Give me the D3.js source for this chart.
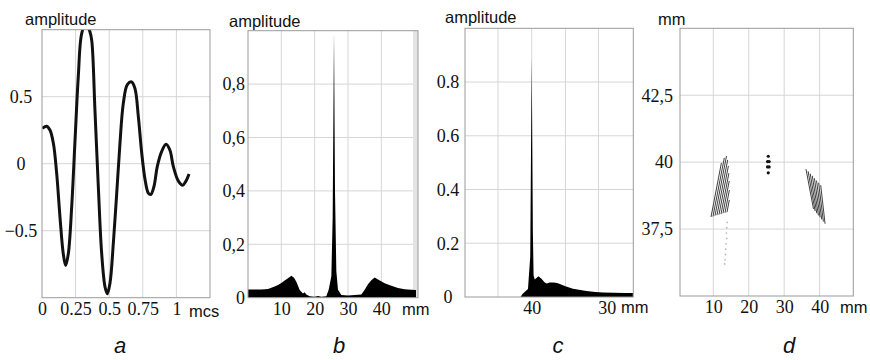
<!DOCTYPE html>
<html>
<head>
<meta charset="utf-8">
<script src="https://cdn.jsdelivr.net/npm/d3@7"></script>
<style>
  body { margin: 0; background: #fff; }
  svg { display: block; }
</style>
</head>
<body>
<svg id="chart" width="870" height="360"></svg>
<script>
// --- panel a: probing pulse (time in mcs, amplitude)
const pulseTime = [0.002, 0.035, 0.06, 0.085, 0.109, 0.134, 0.158, 0.176, 0.196, 0.221, 0.246, 0.27, 0.295, 0.327, 0.355,
  0.37, 0.394, 0.419, 0.444, 0.469, 0.486, 0.506, 0.531, 0.556, 0.58, 0.605, 0.635, 0.667, 0.692, 0.717, 0.742,
  0.767, 0.791, 0.809, 0.833, 0.858, 0.89, 0.923, 0.952, 0.977, 1.015, 1.047, 1.071, 1.094];
const pulseAmp = [0.264, 0.28, 0.25, 0.15, -0.07, -0.40, -0.67, -0.76, -0.67, -0.32, 0.18, 0.65, 0.97, 1.05, 0.99,
  0.92, 0.40, -0.17, -0.67, -0.92, -0.97, -0.89, -0.59, -0.22, 0.15, 0.45, 0.59, 0.61, 0.56, 0.35, 0.08,
  -0.12, -0.22, -0.23, -0.17, -0.02, 0.09, 0.145, 0.10, -0.02, -0.13, -0.16, -0.13, -0.077];
const aTimeTicks = [0, 0.25, 0.5, 0.75, 1];
const aAmpTicks = [0.5, 0, -0.5];

// --- panel b: lateral profile (mm, amplitude)
const profileBX = [0, 2, 4, 6, 8, 9, 10, 11, 12, 13, 13.8, 14.5, 15, 15.5, 16.5, 17, 17.5, 18.5, 20, 21, 22, 23.5,
  24.2, 25.0, 25.4, 25.8, 26.1, 26.5, 27, 28, 30, 32, 34, 35, 36, 37, 38, 39, 41, 43, 45, 47, 49, 50.4];
const profileBY = [0.031, 0.031, 0.031, 0.033, 0.042, 0.048, 0.055, 0.064, 0.073, 0.082, 0.075, 0.06, 0.045, 0.029,
  0.016, 0.02, 0.012, 0.005, 0.004, 0.006, 0.004, 0.005, 0.03, 0.08, 0.3, 1.0, 0.4, 0.1, 0.03, 0.01, 0.008, 0.01,
  0.012, 0.03, 0.05, 0.065, 0.076, 0.068, 0.054, 0.045, 0.036, 0.032, 0.03, 0.029];
const bXTicks = [10, 20, 30, 40];
const bYTicks = [0, 0.2, 0.4, 0.6, 0.8];

// --- panel c: depth profile (mm, reversed axis)
const profileCX = [41.5, 41.2, 40.8, 40.5, 40.2, 40.0, 39.85, 39.75, 39.6, 39.1, 38.7, 38.3, 38, 37.6, 37.1, 36.6,
  36, 35.5, 34.5, 33.5, 32.7, 31.5, 30.5, 29, 27.5, 26.5];
const profileCY = [0, 0.012, 0.022, 0.03, 0.15, 0.89, 0.25, 0.08, 0.065, 0.077, 0.068, 0.055, 0.05, 0.054, 0.054,
  0.052, 0.046, 0.04, 0.031, 0.026, 0.022, 0.019, 0.017, 0.016, 0.015, 0.015];
const cXTicks = [40, 30];
const cXGrid = [44.5, 40, 35.5, 31.1];
const cYTicks = [0, 0.2, 0.4, 0.6, 0.8];

// --- panel d: image (x mm, depth mm), stripes are [x1, y1, x2, y2]
const leftStripes = [
  [9.35, 37.95, 12.28, 39.97], [9.91, 37.97, 13.10, 40.16], [10.48, 38.00, 13.72, 40.23],
  [11.04, 38.02, 14.05, 40.08], [11.60, 38.04, 14.26, 39.86], [12.17, 38.06, 14.40, 39.59],
  [12.73, 38.09, 14.50, 39.30], [13.30, 38.11, 14.54, 38.96], [13.86, 38.13, 14.52, 38.59]
];
const rightStripes = [
  [36.15, 39.74, 38.27, 38.25], [36.75, 39.66, 38.73, 38.17], [37.34, 39.57, 39.20, 38.09],
  [37.93, 39.49, 39.67, 38.01], [38.52, 39.40, 40.13, 37.94], [39.12, 39.31, 40.60, 37.86],
  [39.71, 39.23, 41.06, 37.78], [40.30, 39.14, 41.53, 37.70]
];
const centerDots = [[25.5, 40.22], [25.3, 40.02], [25.75, 40.02], [25.3, 39.82], [25.75, 39.82], [25.5, 39.6]];
const trailDots = [[13.9, 37.75], [13.8, 37.55], [13.7, 37.35], [13.8, 37.15], [13.6, 36.95], [13.5, 36.75],
  [13.4, 36.55], [13.3, 36.35], [13.2, 36.2]];
const dXTicks = [10, 20, 30, 40];
const dYTicks = [37.5, 40, 42.5];

const svg = d3.select("#chart");
const serif = "'Liberation Serif', 'Times New Roman', serif";
const sans = "'Liberation Sans', Arial, sans-serif";

// frame, grid, tick labels and titles shared by all four panels
function drawPanel(p) {
  const x = d3.scaleLinear().domain(p.xDomain).range([p.left, p.right]);
  const y = d3.scaleLinear().domain(p.yDomain).range([p.bottom, p.top]);
  const g = svg.append("g");

  g.append("g").selectAll("line").data(p.xGrid).join("line")
    .attr("x1", d => x(d)).attr("x2", d => x(d))
    .attr("y1", p.top).attr("y2", p.bottom)
    .attr("stroke", "#d6d6d6");
  g.append("g").selectAll("line").data(p.yGrid).join("line")
    .attr("y1", d => y(d)).attr("y2", d => y(d))
    .attr("x1", p.left).attr("x2", p.right)
    .attr("stroke", "#d6d6d6");

  const clipId = "clip-" + p.letter;
  svg.append("clipPath").attr("id", clipId)
    .append("rect")
    .attr("x", p.left).attr("y", p.top)
    .attr("width", p.right - p.left).attr("height", p.bottom - p.top);
  const plot = g.append("g").attr("clip-path", `url(#${clipId})`);

  // x tick labels
  g.append("g")
    .attr("transform", `translate(0,${p.bottom})`)
    .call(d3.axisBottom(x).tickValues(p.xTicks).tickSize(0).tickPadding(4.5).tickFormat(p.xFmt))
    .call(s => s.select(".domain").remove())
    .selectAll("text")
    .attr("font-family", serif).attr("font-size", 18).attr("fill", "#111");

  // y tick labels
  g.append("g").selectAll("text").data(p.yTicks).join("text")
    .attr("x", p.yLabelX)
    .attr("y", d => y(d))
    .attr("dy", "0.35em")
    .attr("text-anchor", p.yAnchor)
    .attr("font-family", serif).attr("font-size", 18).attr("fill", "#111")
    .text(p.yFmt);

  g.append("text")
    .attr("x", p.titleX).attr("y", p.titleY)
    .attr("font-family", sans).attr("font-size", 16.5).attr("fill", "#111")
    .text(p.title);
  g.append("text")
    .attr("x", p.unitX).attr("y", p.unitY)
    .attr("font-family", sans).attr("font-size", 16.5).attr("fill", "#111")
    .text(p.unit);
  g.append("text")
    .attr("x", p.letterX).attr("y", 353)
    .attr("text-anchor", "middle")
    .attr("font-family", "'Liberation Sans Narrow', 'Liberation Sans', Arial, sans-serif")
    .attr("font-style", "italic").attr("font-size", 22).attr("fill", "#111")
    .text(p.letter);

  return { x, y, g, plot, frame: () => g.append("rect")
    .attr("x", p.left).attr("y", p.top)
    .attr("width", p.right - p.left).attr("height", p.bottom - p.top)
    .attr("fill", "none").attr("stroke", "#9a9a9a") };
}

const dotFmt = d3.format("");
const commaFmt = d => String(d).replace(".", ",");

// a
const pa = drawPanel({
  letter: "a", left: 42, right: 210, top: 29.7, bottom: 297.7,
  xDomain: [0, 1.25], yDomain: [-1, 1],
  xGrid: [0.25, 0.5, 0.75, 1], yGrid: [0.5, 0, -0.5],
  xTicks: aTimeTicks, yTicks: aAmpTicks, xFmt: dotFmt, yFmt: dotFmt,
  yAnchor: "middle", yLabelX: 21,
  title: "amplitude", titleX: 25, titleY: 25,
  unit: "mcs", unitX: 189, unitY: 317, letterX: 120
});
pa.plot.append("path")
  .datum(pulseTime.map((t, i) => [t, pulseAmp[i]]))
  .attr("fill", "none").attr("stroke", "#111").attr("stroke-width", 3)
  .attr("d", d3.line().x(d => pa.x(d[0])).y(d => pa.y(d[1])).curve(d3.curveCatmullRom.alpha(0.5)));
pa.frame();

// b
const pb = drawPanel({
  letter: "b", left: 248, right: 418, top: 30.7, bottom: 297.7,
  xDomain: [0, 51], yDomain: [0, 1],
  xGrid: [10, 20, 30, 40], yGrid: [0.2, 0.4, 0.6, 0.8],
  xTicks: bXTicks, yTicks: bYTicks, xFmt: dotFmt, yFmt: commaFmt,
  yAnchor: "end", yLabelX: 245,
  title: "amplitude", titleX: 229, titleY: 27,
  unit: "mm", unitX: 402, unitY: 315, letterX: 339
});
pb.plot.append("rect")
  .attr("x", pb.x(49.5)).attr("y", pb.y(1))
  .attr("width", pb.x(51) - pb.x(49.5)).attr("height", pb.y(0) - pb.y(1))
  .attr("fill", "#e4e4e4");
pb.plot.append("path")
  .datum(profileBX.map((v, i) => [v, profileBY[i]]))
  .attr("fill", "#000")
  .attr("d", d3.area().x(d => pb.x(d[0])).y0(pb.y(0)).y1(d => pb.y(d[1])));
pb.frame();

// c
const pc = drawPanel({
  letter: "c", left: 465, right: 633.3, top: 28.3, bottom: 297,
  xDomain: [48.9, 26.45], yDomain: [0, 1],
  xGrid: cXGrid, yGrid: [0.2, 0.4, 0.6, 0.8],
  xTicks: cXTicks, yTicks: cYTicks, xFmt: dotFmt, yFmt: dotFmt,
  yAnchor: "middle", yLabelX: 448,
  title: "amplitude", titleX: 445, titleY: 23,
  unit: "mm", unitX: 621, unitY: 313, letterX: 558
});
pc.plot.append("path")
  .datum(profileCX.map((v, i) => [v, profileCY[i]]))
  .attr("fill", "#000")
  .attr("d", d3.area().x(d => pc.x(d[0])).y0(pc.y(0)).y1(d => pc.y(d[1])));
pc.frame();

// d
const pd = drawPanel({
  letter: "d", left: 680, right: 853.3, top: 28.3, bottom: 296,
  xDomain: [0.6, 49.5], yDomain: [35, 45],
  xGrid: [10, 20, 30, 40], yGrid: [37.5, 40, 42.5],
  xTicks: dXTicks, yTicks: dYTicks, xFmt: dotFmt, yFmt: commaFmt,
  yAnchor: "end", yLabelX: 673,
  title: "mm", titleX: 658, titleY: 25,
  unit: "mm", unitX: 840, unitY: 313, letterX: 789
});
const stripeLine = d => `M${pd.x(d[0])},${pd.y(d[1])}L${pd.x(d[2])},${pd.y(d[3])}`;
pd.plot.append("g").selectAll("path").data(leftStripes.concat(rightStripes)).join("path")
  .attr("d", stripeLine)
  .attr("fill", "none").attr("stroke", "#2a2a2a").attr("stroke-width", 0.9);
pd.plot.append("g").selectAll("circle").data(trailDots).join("circle")
  .attr("cx", d => pd.x(d[0])).attr("cy", d => pd.y(d[1]))
  .attr("r", 0.9).attr("fill", "#bbb");
pd.plot.append("g").selectAll("circle").data(centerDots).join("circle")
  .attr("cx", d => pd.x(d[0])).attr("cy", d => pd.y(d[1]))
  .attr("r", 1.6).attr("fill", "#111");
pd.frame();
</script>
</body>
</html>
